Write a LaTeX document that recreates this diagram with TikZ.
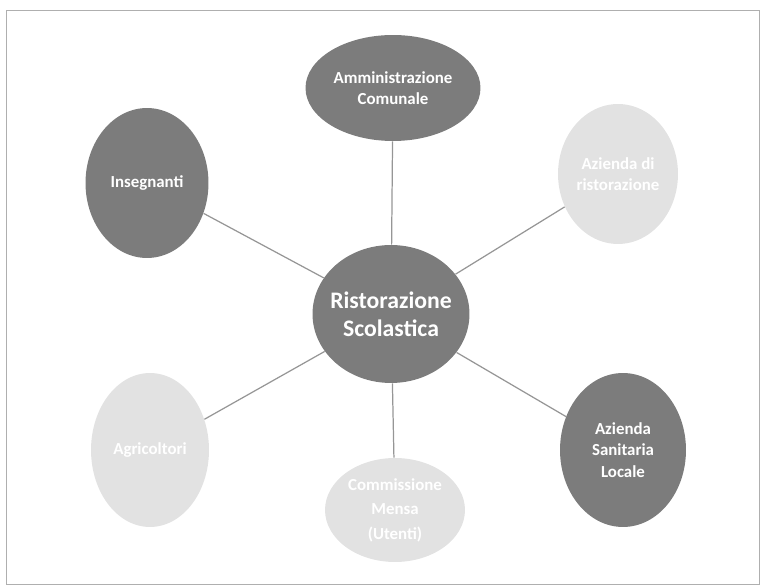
\documentclass[tikz,border=0pt]{standalone}
\usepackage{fontspec}
\setsansfont{Carlito}
\usetikzlibrary{shapes.geometric}
\definecolor{bubdark}{RGB}{124,124,124}
\definecolor{bublight}{RGB}{226,226,226}
\definecolor{linkgray}{RGB}{150,150,150}
\definecolor{framegray}{RGB}{175,175,175}

\begin{document}
\begin{tikzpicture}[
    x=0.02cm, y=-0.02cm,
    bub/.style={ellipse,inner sep=-3mm,align=center,text=white,
      font=\sffamily\bfseries\fontsize{9.6}{12.2}\selectfont},
    darkbub/.style={bub,fill=bubdark},
    lightbub/.style={bub,fill=bublight},
    hub/.style={bub,fill=bubdark,font=\sffamily\bfseries\fontsize{13.5}{16}\selectfont},
    link/.style={draw=linkgray,line width=0.7pt}
  ]
    \useasboundingbox (0,0) rectangle (761,587);
    \draw[framegray,line width=0.4pt] (6,10) rectangle (759,584);

    % centre and the six partners
    \node[hub,minimum width=3.14cm,minimum height=2.76cm] (rist) at (391,314) {Ristorazione\\Scolastica};
    \node[darkbub,minimum width=3.5cm,minimum height=2.12cm] (amm) at (393,88) {Amministrazione\\Comunale};
    \node[lightbub,minimum width=2.4cm,minimum height=2.8cm] (azr) at (618,174) {Azienda di\\ristorazione};
    \node[darkbub,minimum width=2.46cm,minimum height=3.0cm] (ins) at (147,183) {Insegnanti};
    \node[lightbub,minimum width=2.36cm,minimum height=3.08cm] (agr) at (150,450) {Agricoltori};
    \node[darkbub,minimum width=2.52cm,minimum height=3.08cm] (asl) at (623,450) {Azienda\\Sanitaria\\Locale};
    \node[lightbub,minimum width=2.8cm,minimum height=2.08cm,
      font=\sffamily\bfseries\fontsize{9.6}{14}\selectfont] (com) at (395,510) {Commissione\\Mensa\\(Utenti)};

    \draw[link] (rist) -- (amm);
    \draw[link] (rist) -- (azr);
    \draw[link] (rist) -- (ins);
    \draw[link] (rist) -- (agr);
    \draw[link] (rist) -- (asl);
    \draw[link] (rist) -- (com);
  \end{tikzpicture}
\end{document}
